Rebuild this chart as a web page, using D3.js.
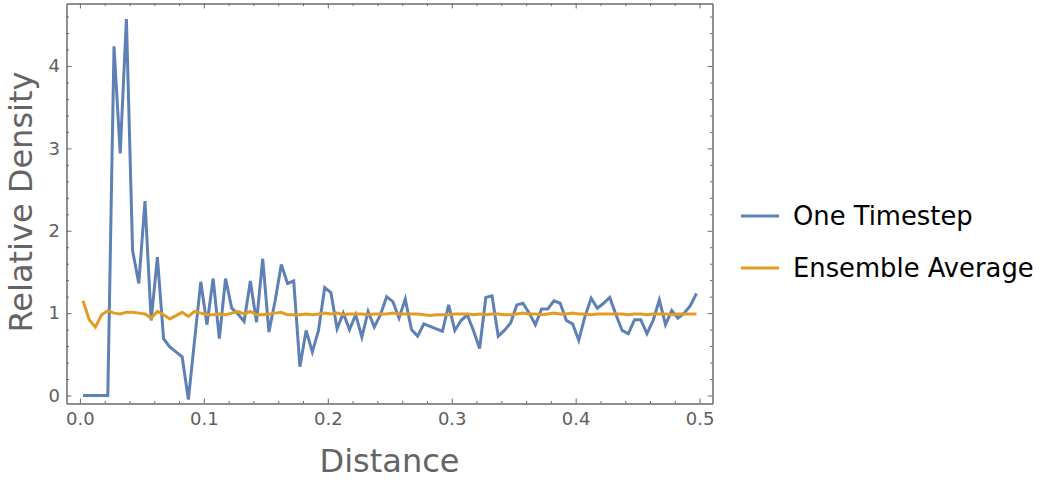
<!DOCTYPE html>
<html><head><meta charset="utf-8">
<script src="https://cdn.jsdelivr.net/npm/d3@7"></script>
<style>
body{margin:0;background:#fff;}
svg{display:block;font-family:"DejaVu Sans",sans-serif;}
</style></head>
<body>
<svg id="chart" width="1046" height="482"></svg>
<script>
const distance = [0.0025,0.0075,0.0125,0.0175,0.0225,0.0275,0.0325,0.0375,0.0425,0.0475,
0.0525,0.0575,0.0625,0.0675,0.0725,0.0775,0.0825,0.0875,0.0925,0.0975,
0.1025,0.1075,0.1125,0.1175,0.1225,0.1275,0.1325,0.1375,0.1425,0.1475,
0.1525,0.1575,0.1625,0.1675,0.1725,0.1775,0.1825,0.1875,0.1925,0.1975,
0.2025,0.2075,0.2125,0.2175,0.2225,0.2275,0.2325,0.2375,0.2425,0.2475,
0.2525,0.2575,0.2625,0.2675,0.2725,0.2775,0.2825,0.2875,0.2925,0.2975,
0.3025,0.3075,0.3125,0.3175,0.3225,0.3275,0.3325,0.3375,0.3425,0.3475,
0.3525,0.3575,0.3625,0.3675,0.3725,0.3775,0.3825,0.3875,0.3925,0.3975,
0.4025,0.4075,0.4125,0.4175,0.4225,0.4275,0.4325,0.4375,0.4425,0.4475,
0.4525,0.4575,0.4625,0.4675,0.4725,0.4775,0.4825,0.4875,0.4925,0.4975];

const oneTimestep = [0,0,0,0,0,4.24,2.94,4.57,1.76,1.36,
2.36,0.91,1.68,0.69,0.59,0.53,0.47,-0.05,0.67,1.38,
0.86,1.42,0.69,1.42,1.06,0.99,0.90,1.39,0.89,1.66,
0.77,1.15,1.59,1.36,1.39,0.35,0.79,0.53,0.79,1.31,
1.25,0.81,1.00,0.80,0.98,0.71,1.02,0.83,0.98,1.20,
1.14,0.94,1.17,0.80,0.72,0.87,0.84,0.81,0.78,1.10,
0.79,0.91,0.98,0.79,0.57,1.19,1.21,0.72,0.79,0.88,
1.10,1.12,1.00,0.86,1.05,1.05,1.15,1.12,0.91,0.87,
0.67,0.96,1.18,1.06,1.12,1.19,0.98,0.79,0.75,0.92,
0.92,0.75,0.91,1.16,0.86,1.03,0.94,1.00,1.09,1.24];

const ensembleAverage = [1.15,0.92,0.83,0.98,1.03,1.00,0.99,1.01,1.01,1.00,
0.99,0.94,1.02,0.98,0.93,0.97,1.01,0.96,1.02,1.00,
0.98,0.98,0.99,0.98,1.00,1.02,0.99,1.02,0.98,0.98,
0.99,1.00,1.01,0.98,0.98,0.98,0.99,0.98,0.99,1.00,
0.99,1.00,0.98,0.99,0.99,0.99,0.98,0.99,0.99,0.99,
1.00,0.99,0.99,0.99,0.99,0.98,0.97,0.98,0.98,0.98,
0.99,0.99,0.99,0.98,0.99,0.98,0.99,0.99,0.98,0.98,
0.99,1.00,0.99,0.99,0.98,0.99,1.00,0.99,0.99,1.00,
0.99,0.99,0.98,0.99,0.99,0.99,0.99,0.99,0.98,0.99,
0.99,0.98,0.99,0.99,0.99,0.98,0.99,0.99,0.99,0.99];

const seriesNames = ["One Timestep","Ensemble Average"];
const seriesColors = ["#5e81b5","#e19c24"];
const xMajorTicks = [0,0.1,0.2,0.3,0.4,0.5];
const xTickLabels = ["0.0","0.1","0.2","0.3","0.4","0.5"];
const xMinorTicks = [0.02,0.04,0.06,0.08,0.12,0.14,0.16,0.18,0.22,0.24,0.26,0.28,0.32,0.34,0.36,0.38,0.42,0.44,0.46,0.48];
const yMajorTicks = [0,1,2,3,4];
const yTickLabels = ["0","1","2","3","4"];
const yMinorTicks = [0.2,0.4,0.6,0.8,1.2,1.4,1.6,1.8,2.2,2.4,2.6,2.8,3.2,3.4,3.6,3.8,4.2,4.4,4.6];
const xTitle = "Distance";
const yTitle = "Relative Density";

const svg = d3.select("#chart");
const L = 66.5, R = 712.5, T = 3.5, B = 403.5;
const x = d3.scaleLinear().domain([-0.01083, 0.5104]).range([L, R]);
const y = d3.scaleLinear().domain([-0.0971, 4.759]).range([B, T]);

const frameColor = "#6a6a6a", labelColor = "#5e5e5e";

function styleAxis(g){
  g.selectAll("path.domain").attr("stroke", frameColor).attr("stroke-width",1);
  g.selectAll(".tick line").attr("stroke", frameColor).attr("stroke-width",1);
  g.selectAll(".tick text").attr("fill", labelColor).style("font-size","18px").style("font-family","DejaVu Sans");
}

// minor ticks
svg.append("g").attr("transform",`translate(0,${B})`)
  .call(d3.axisBottom(x).tickValues(xMinorTicks).tickFormat("").tickSize(-2.5).tickSizeOuter(0)).call(styleAxis);
svg.append("g").attr("transform",`translate(0,${T})`)
  .call(d3.axisTop(x).tickValues(xMinorTicks).tickFormat("").tickSize(-2.5).tickSizeOuter(0)).call(styleAxis);
svg.append("g").attr("transform",`translate(${L},0)`)
  .call(d3.axisLeft(y).tickValues(yMinorTicks).tickFormat("").tickSize(-2.5).tickSizeOuter(0)).call(styleAxis);
svg.append("g").attr("transform",`translate(${R},0)`)
  .call(d3.axisRight(y).tickValues(yMinorTicks).tickFormat("").tickSize(-2.5).tickSizeOuter(0)).call(styleAxis);

// major ticks
svg.append("g").attr("transform",`translate(0,${B})`)
  .call(d3.axisBottom(x).tickValues(xMajorTicks).tickFormat((d,i)=>xTickLabels[i]).tickSize(-5).tickSizeOuter(0).tickPadding(9)).call(styleAxis);
svg.append("g").attr("transform",`translate(0,${T})`)
  .call(d3.axisTop(x).tickValues(xMajorTicks).tickFormat("").tickSize(-5).tickSizeOuter(0)).call(styleAxis);
svg.append("g").attr("transform",`translate(${L},0)`)
  .call(d3.axisLeft(y).tickValues(yMajorTicks).tickFormat((d,i)=>yTickLabels[i]).tickSize(-5).tickSizeOuter(0).tickPadding(6.5)).call(styleAxis);
svg.append("g").attr("transform",`translate(${R},0)`)
  .call(d3.axisRight(y).tickValues(yMajorTicks).tickFormat("").tickSize(-5).tickSizeOuter(0)).call(styleAxis);

// clip
svg.append("clipPath").attr("id","clip").append("rect").attr("x",L).attr("y",T).attr("width",R-L).attr("height",B-T);

const line = d3.line().x((d,i)=>x(distance[i])).y(d=>y(d));
const plot = svg.append("g").attr("clip-path","url(#clip)");
[oneTimestep, ensembleAverage].forEach((s,k)=>{
  plot.append("path").datum(s).attr("d", line).attr("fill","none")
    .attr("stroke", seriesColors[k]).attr("stroke-width",3).attr("stroke-linejoin","miter").attr("stroke-miterlimit",4);
});

// titles
svg.append("text").attr("x",(L+R)/2).attr("y",472).attr("text-anchor","middle")
  .attr("fill","#646464").style("font-size","32px").text(xTitle);
svg.append("text").attr("transform",`translate(32,202) rotate(-90)`).attr("text-anchor","middle")
  .attr("fill","#646464").style("font-size","32px").text(yTitle);

// legend
const legY = [216, 268];
seriesNames.forEach((n,k)=>{
  svg.append("line").attr("x1",741).attr("x2",779).attr("y1",legY[k]).attr("y2",legY[k])
    .attr("stroke",seriesColors[k]).attr("stroke-width",3);
  svg.append("text").attr("x",793).attr("y",legY[k]).attr("dy","0.35em")
    .attr("fill","#000").style("font-size","25.8px").text(n);
});
</script>
</body></html>
